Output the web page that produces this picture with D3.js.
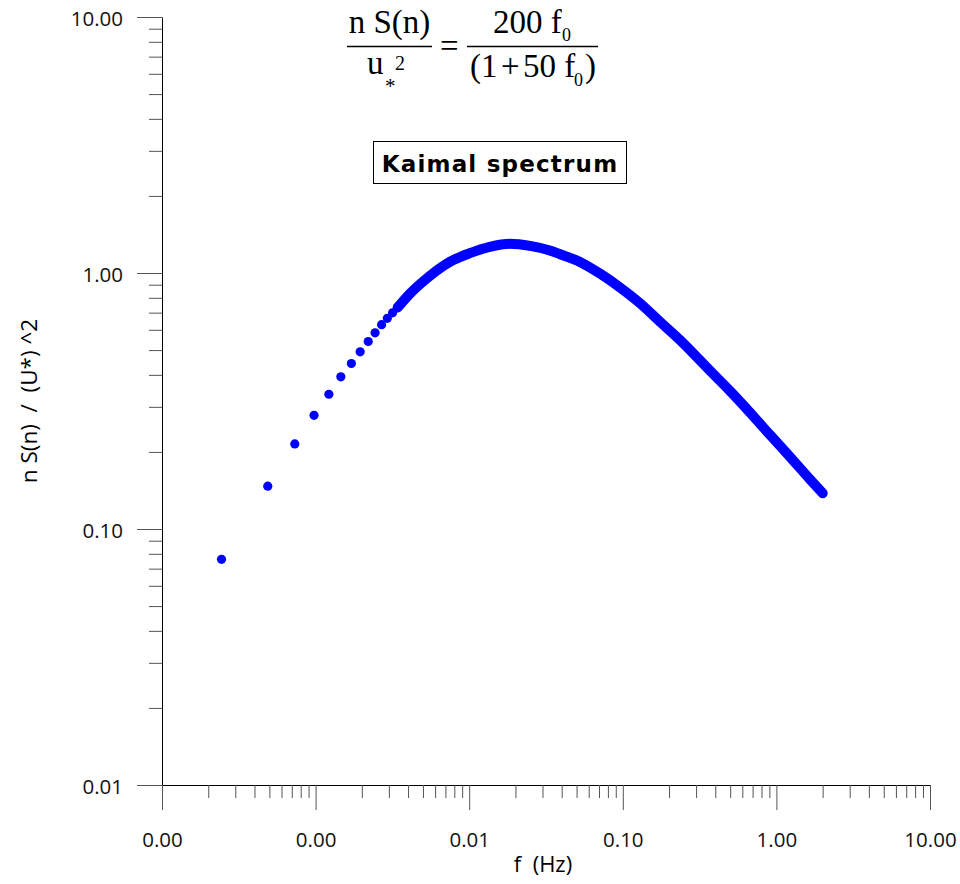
<!DOCTYPE html>
<html>
<head>
<meta charset="utf-8">
<script src="https://cdn.jsdelivr.net/npm/d3@7"></script>
<style>
  body { margin: 0; background: #fff; }
  svg { display: block; }
  .tex { font-family: 'Liberation Serif', 'Times New Roman', serif; fill: #000; }
</style>
</head>
<body>
<script>
// values (f in Hz, n S(n) / u*^2)
// separate dots at the low end
const dotFreq = [0.000244, 0.000488, 0.000732, 0.000977, 0.00122, 0.00146, 0.00171,
    0.00195, 0.00220, 0.00244, 0.00269, 0.00293, 0.00317]
const dotVal = [0.0761, 0.147, 0.215, 0.278, 0.336, 0.393, 0.443,
    0.492, 0.540, 0.584, 0.628, 0.665, 0.699]

// the part where the dots run together into a band
const bandFreq = [0.00342, 0.00411, 0.00555, 0.00748, 0.0101, 0.0136, 0.0184, 0.0249,
    0.0335, 0.0390, 0.0526, 0.0710, 0.0959, 0.130, 0.175, 0.236, 0.370, 0.499,
    0.674, 0.910, 1.23, 1.66, 2.00]
const bandVal = [0.733, 0.830, 0.975, 1.105, 1.195, 1.265, 1.300, 1.276,
    1.224, 1.184, 1.105, 0.995, 0.878, 0.760, 0.644, 0.547, 0.415, 0.346,
    0.285, 0.233, 0.191, 0.156, 0.138]

const xMajor = [0.0001, 0.001, 0.01, 0.1, 1, 10]
const xTickLabels = ['0.00', '0.00', '0.01', '0.10', '1.00', '10.00']
const yMajor = [0.01, 0.1, 1, 10]
const yTickLabels = ['0.01', '0.10', '1.00', '10.00']

const width = 960
const height = 884
const blue = '#0000ff'

let svg = d3.select('body').append('svg')
    .attr('width', width)
    .attr('height', height)

let xScale = d3.scaleLog().domain([0.0001, 10]).range([162, 930])
let yScale = d3.scaleLog().domain([0.01, 10]).range([785, 17])

// minor ticks = every 1..9 multiple that is not a decade
let xMinor = xScale.ticks().filter(t => !xMajor.some(m => Math.abs(m - t) / m < 1e-6))
let yMinor = yScale.ticks().filter(t => !yMajor.some(m => Math.abs(m - t) / m < 1e-6))

// x axis
let xAxisG = svg.append('g')
    .attr('transform', 'translate(0,785)')
    .call(d3.axisBottom(xScale)
        .tickValues(xMajor)
        .tickSize(25)
        .tickSizeOuter(0)
        .tickFormat((d, i) => xTickLabels[i]))
svg.append('g')
    .attr('transform', 'translate(0,785)')
    .call(d3.axisBottom(xScale).tickValues(xMinor).tickSize(13).tickFormat(''))
    .call(g => g.select('.domain').remove())

// y axis
let yAxisG = svg.append('g')
    .attr('transform', 'translate(162,0)')
    .call(d3.axisLeft(yScale)
        .tickValues(yMajor)
        .tickSize(25)
        .tickSizeOuter(0)
        .tickFormat((d, i) => yTickLabels[i]))
svg.append('g')
    .attr('transform', 'translate(162,0)')
    .call(d3.axisLeft(yScale).tickValues(yMinor).tickSize(13).tickFormat(''))
    .call(g => g.select('.domain').remove())

svg.selectAll('.tick line').attr('stroke', '#555')
svg.selectAll('.domain').attr('stroke', '#000')

xAxisG.selectAll('text')
    .attr('y', 62)
    .attr('dy', null)
yAxisG.selectAll('text')
    .attr('x', -39)
    .attr('dy', '0.42em')
svg.selectAll('.tick text')
    .attr('font-family', "'Open Sans', sans-serif")
    .attr('font-size', 20.5)
    .attr('fill', '#111')

// axis titles
svg.append('text')
    .attr('x', 543)
    .attr('y', 872)
    .attr('text-anchor', 'middle')
    .attr('font-family', "'Open Sans', sans-serif")
    .attr('font-size', 22)
    .style('white-space', 'pre')
    .text('f  (Hz)')

svg.append('text')
    .attr('transform', 'translate(37,401) rotate(-90)')
    .attr('text-anchor', 'middle')
    .attr('font-family', "'Open Sans', sans-serif")
    .attr('font-size', 22.5)
    .style('white-space', 'pre')
    .text('n S(n)  /  (U*) ^2')

// dense band: the dots overlap so much they read as one thick stroke
let bandPts = bandFreq.map((f, i) => [f, bandVal[i]])
let line = d3.line()
    .x(d => xScale(d[0]))
    .y(d => yScale(d[1]))
    .curve(d3.curveMonotoneX)

svg.append('path')
    .datum(bandPts)
    .attr('d', line)
    .attr('fill', 'none')
    .attr('stroke', blue)
    .attr('stroke-width', 10)
    .attr('stroke-linecap', 'round')
    .attr('stroke-linejoin', 'round')

let allPts = dotFreq.map((f, i) => [f, dotVal[i]]).concat(bandPts)
svg.selectAll('circle.dot')
    .data(allPts)
    .enter()
    .append('circle')
    .attr('class', 'dot')
    .attr('cx', d => xScale(d[0]))
    .attr('cy', d => yScale(d[1]))
    .attr('r', 4.6)
    .attr('fill', blue)

// title box
svg.append('rect')
    .attr('x', 373.5)
    .attr('y', 141.5)
    .attr('width', 253)
    .attr('height', 42)
    .attr('fill', '#fff')
    .attr('stroke', '#000')
svg.append('text')
    .attr('x', 500)
    .attr('y', 172)
    .attr('text-anchor', 'middle')
    .attr('font-family', "'DejaVu Sans', sans-serif")
    .attr('font-weight', 'bold')
    .attr('font-size', 23)
    .attr('letter-spacing', 1.2)
    .text('Kaimal spectrum')

// formula  n S(n) / u*^2 = 200 f0 / (1+50 f0)
let eq = svg.append('g').attr('class', 'tex')
eq.append('text').attr('x', 389.5).attr('y', 33).attr('text-anchor', 'middle')
    .attr('font-size', 33).text('n S(n)')
eq.append('line').attr('x1', 347).attr('x2', 432).attr('y1', 46.5).attr('y2', 46.5)
    .attr('stroke', '#000').attr('stroke-width', 1.5)
eq.append('text').attr('x', 367).attr('y', 74).attr('font-size', 33).text('u')
eq.append('text').attr('x', 385).attr('y', 93).attr('font-size', 21).text('*')
eq.append('text').attr('x', 395).attr('y', 70).attr('font-size', 20).text('2')

eq.append('text').attr('x', 440).attr('y', 57).attr('font-size', 33).text('=')

eq.append('text').attr('x', 493).attr('y', 33).attr('font-size', 33).text('200 f')
eq.append('text').attr('x', 562).attr('y', 41).attr('font-size', 18).text('0')
eq.append('line').attr('x1', 467).attr('x2', 598).attr('y1', 46.5).attr('y2', 46.5)
    .attr('stroke', '#000').attr('stroke-width', 1.5)
eq.append('text').attr('x', 470).attr('y', 77).attr('font-size', 33).text('(1')
eq.append('text').attr('x', 501).attr('y', 77).attr('font-size', 33).text('+')
eq.append('text').attr('x', 523).attr('y', 77).attr('font-size', 33).text('50 f')
eq.append('text').attr('x', 574).attr('y', 86).attr('font-size', 18).text('0')
eq.append('text').attr('x', 585).attr('y', 77).attr('font-size', 33).text(')')
</script>
</body>
</html>
